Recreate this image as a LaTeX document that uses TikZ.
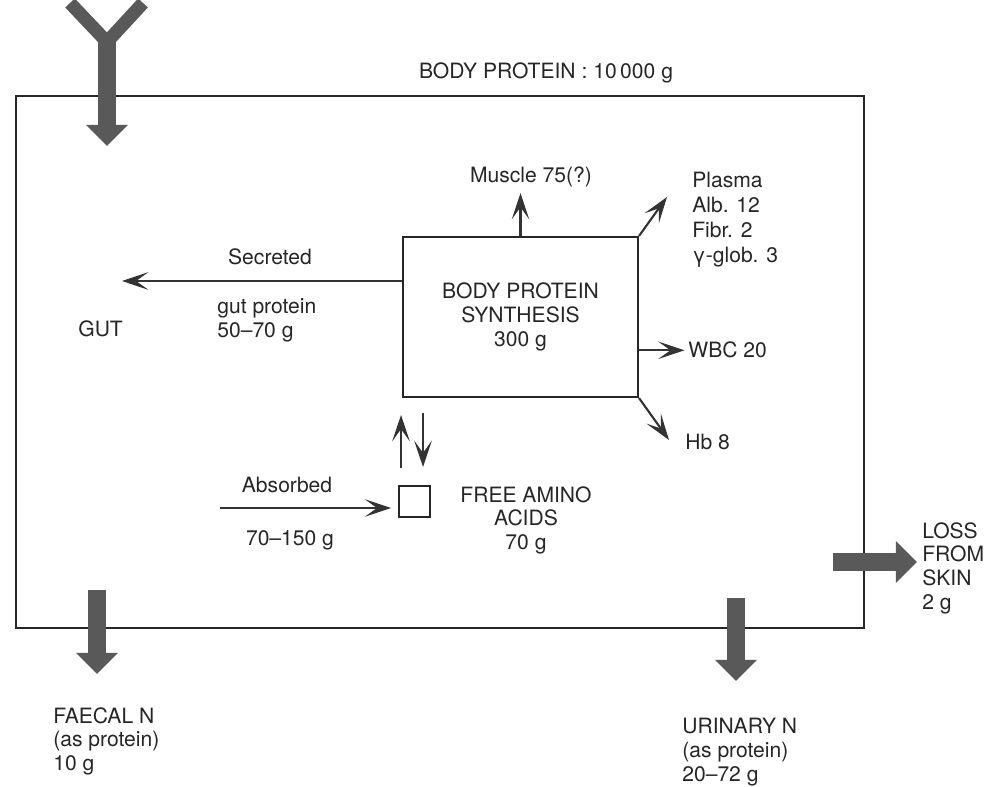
\documentclass[tikz,border=0pt]{standalone}
\usepackage{fontspec}
\setmainfont{TeX Gyre Heros}
\usetikzlibrary{arrows.meta,positioning,calc}
\tikzset{
  box/.style={rectangle, draw=black!85, line width=1.2pt, inner sep=0pt},
  lbl/.style={inner sep=0pt, align=left, font=\fontsize{12}{13.6}\selectfont, text=black!85},
  clbl/.style={inner sep=0pt, align=center, font=\fontsize{12}{13.6}\selectfont, text=black!85},
  arr/.style={-{Stealth[length=15pt, width=10pt, inset=7pt]}, line width=1.2pt, draw=black!80},
  fat/.style={-{Triangle[length=12pt, width=23pt]}, line width=10pt, draw=black!65},
}

\begin{document}
\begin{tikzpicture}[x=0.02cm, y=-0.02cm,
    synth/.style={box, minimum width=4.7cm, minimum height=3.2cm, align=center,
      font=\fontsize{12}{13.6}\selectfont, text=black!85},
    pool/.style={box, line width=1pt, minimum size=0.62cm},
  ]
  \useasboundingbox (0,0) rectangle (985,787);
  % whole body
  \draw[line width=1.3pt, black!85] (16,96) rectangle (864,628);
  \node[clbl, anchor=north] (total) at (546,62) {BODY PROTEIN : 10\,000 g};
  % synthesis and free pool
  \node[synth] (synth) at (520.5,317) {BODY PROTEIN\\SYNTHESIS\\300 g};
  \node[pool] (pool) at (414.5,501.5) {};
  \node[clbl, anchor=north] (free) at (526,486) {FREE AMINO\\ACIDS\\70 g};
  % products
  \node[clbl, anchor=base] (muscle) at (531,183) {Muscle 75(?)};
  \node[lbl, anchor=north west, font=\fontsize{12}{14.2}\selectfont] (plasma) at (692,172)
    {Plasma\\Alb. 12\\Fibr. 2\\γ-glob. 3};
  \node[lbl, anchor=base west] (wbc) at (688,358) {WBC 20};
  \node[lbl, anchor=base west] (hb) at (685,450) {Hb 8};
  % gut side
  \node[clbl, anchor=base] (secr) at (270,265) {Secreted};
  \node[lbl, anchor=north west] (gutprot) at (217,298) {gut protein\\50–70 g};
  \node[lbl, anchor=base west] (gut) at (78,337) {GUT};
  \node[clbl, anchor=base] (absb) at (287,493) {Absorbed};
  \node[clbl, anchor=base] (absamt) at (290,545) {70–150 g};
  % losses
  \node[lbl, anchor=north west] (loss) at (922,522) {LOSS\\FROM\\SKIN\\2 g};
  \node[lbl, anchor=north west] (faecal) at (53,707) {FAECAL N\\(as protein)\\10 g};
  \node[lbl, anchor=north west] (urine) at (682,718) {URINARY N\\(as protein)\\20–72 g};
  % thin arrows
  \coordinate (plasmatip) at (667,197);
  \coordinate (hbtip) at (669,440);
  \coordinate (gutend) at (122,281);
  \coordinate (absstart) at (220,508);
  \coordinate (upfoot) at (401,468);
  \coordinate (uptip) at (401,415);
  \coordinate (dnfoot) at (423,413);
  \coordinate (dntip) at (423,467);
  \draw[arr, shorten >=3pt] (synth.north) -- (synth.north |- muscle.south);
  \draw[arr] (synth.north east) -- (plasmatip);
  \draw[arr, shorten >=2pt] (synth.east |- wbc.west) -- (wbc.west);
  \draw[arr] (synth.south east) -- (hbtip);
  \draw[arr] (synth.west |- gutend) -- (gutend);
  \draw[arr, shorten >=4pt] (absstart) -- (absstart -| pool.west);
  \draw[arr] (upfoot) -- (uptip);
  \draw[arr] (dnfoot) -- (dntip);
  % broad arrows: intake and losses
  \coordinate (armL) at (70,3);
  \coordinate (armR) at (143,3);
  \coordinate (fork) at (107,42);
  \coordinate (intip) at (107,146);
  \draw[line width=7.5pt, black!65] (armL) -- (fork) -- (armR);
  \draw[fat] (fork) -- (intip);
  \coordinate (faectop) at (97,590);
  \coordinate (faectip) at (97,674);
  \draw[fat] (faectop) -- (faectip);
  \coordinate (urtop) at (736,598);
  \coordinate (urtip) at (736,681);
  \draw[fat] (urtop) -- (urtip);
  \coordinate (skinstart) at (833,562);
  \coordinate (skintip) at (917,562);
  \draw[fat] (skinstart) -- (skintip);
\end{tikzpicture}
\end{document}
